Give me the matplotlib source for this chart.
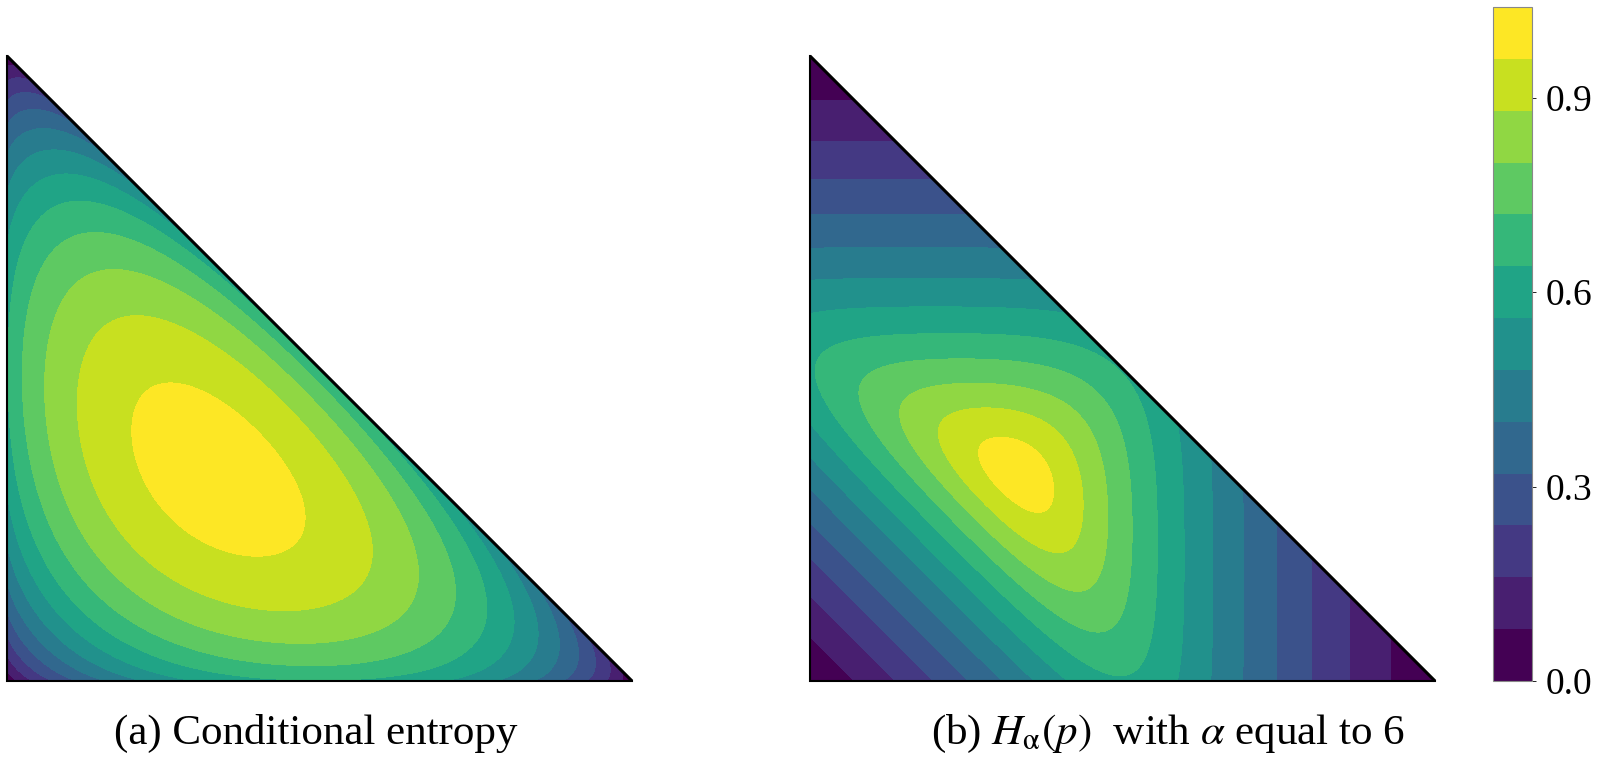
import numpy as np
import matplotlib
matplotlib.use("Agg")
import matplotlib.pyplot as plt
from matplotlib.patches import Polygon
from matplotlib.colors import Normalize

plt.rcParams['font.family'] = ['Liberation Serif', 'DejaVu Serif']
plt.rcParams['mathtext.fontset'] = 'stix'

# ---- chart values ----
levels = [0.0, 0.08, 0.16, 0.24, 0.32, 0.40, 0.48, 0.56, 0.64, 0.72, 0.80, 0.88, 0.96, 1.04]
cbar_ticks = [0.0, 0.3, 0.6, 0.9]
cbar_ticklabels = ["0.0", "0.3", "0.6", "0.9"]
renyi_alpha = 6
captions = ["(a) Conditional entropy",
            r"(b) $H_{\mathrm{\alpha}}(p)$  with $\alpha$ equal to 6"]
triangle = [(0.0, 0.0), (1.0, 0.0), (0.0, 1.0)]
n_grid = 700

# ---- fields on the probability simplex p = (x, y, 1-x-y) ----
g = np.linspace(0, 1, n_grid)
X, Y = np.meshgrid(g, g)
P1 = X
P2 = Y
P3 = np.clip(1 - X - Y, 0, 1)


def shannon(p1, p2, p3):
    # normalised so that the uniform distribution gives 1
    s = np.zeros_like(p1)
    for p in (p1, p2, p3):
        s -= np.where(p > 0, p * np.log(np.maximum(p, 1e-300)), 0.0)
    return s / np.log(3)


def renyi(p1, p2, p3, a):
    s = p1 ** a + p2 ** a + p3 ** a
    return np.log(s) / (1 - a) / np.log(3)


fields = [shannon(P1, P2, P3), renyi(P1, P2, P3, renyi_alpha)]

half = (levels[1] - levels[0]) / 2
norm = Normalize(vmin=levels[0] + half, vmax=levels[-1] - half)

fig = plt.figure(figsize=(16, 7.67), dpi=100)
W, H = 1600, 767
ax_rects = [[7 / W, (H - 681) / H, 625 / W, 625 / H],
            [810 / W, (H - 681) / H, 625 / W, 625 / H]]
caption_x = [316 / W, 1168 / W]
cs = None
for rect, Z, cap, cx in zip(ax_rects, fields, captions, caption_x):
    ax = fig.add_axes(rect)
    cs = ax.contourf(X, Y, Z, levels=levels, cmap='viridis', norm=norm)
    clip = Polygon(triangle, closed=True, transform=ax.transData,
                   facecolor='none', edgecolor='none')
    ax.add_patch(clip)
    cs.set_clip_path(clip)
    ax.plot([0, 0, 1], [1, 0, 0], color='black', lw=1.5, zorder=5,
            solid_joinstyle='miter', clip_on=False)
    ax.plot([0, 1], [1, 0], color='black', lw=2.2, zorder=5,
            solid_capstyle='butt', clip_on=False)
    ax.set_xlim(0, 1)
    ax.set_ylim(0, 1)
    ax.axis('off')
    fig.text(cx, 1 - 744 / H, cap, ha='center', va='baseline', fontsize=31)

cax = fig.add_axes([1493 / W, (H - 681) / H, 39 / W, 674 / H])
cb = fig.colorbar(cs, cax=cax)
cb.set_ticks(cbar_ticks)
cb.set_ticklabels(cbar_ticklabels)
cb.ax.tick_params(labelsize=27, length=3, width=0.6, colors='black', pad=7)
cb.outline.set_edgecolor('#888888')
cb.outline.set_linewidth(0.8)

fig.savefig("out.png", dpi=100)
